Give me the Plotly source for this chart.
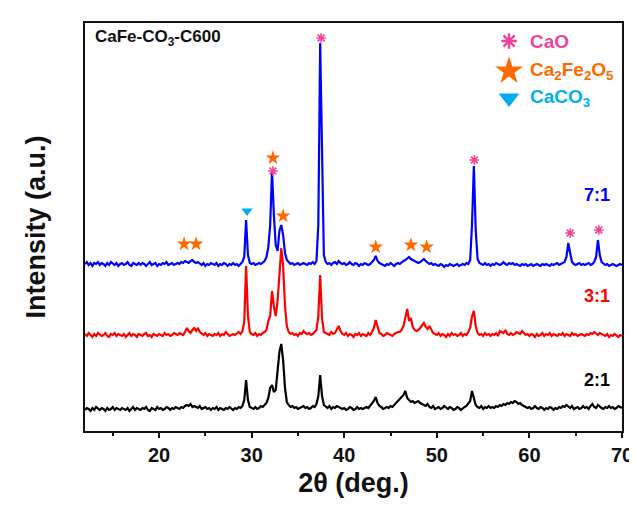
import plotly.graph_objects as go

# 2-theta sampling grid (deg), 0.2 deg step from 12 to 70
two_theta = [round(12 + 0.2 * i, 1) for i in range(291)]

# Intensities (a.u., relative to each pattern's baseline)
blue_71 = [
    1, 3, 0, 2, -1, 2, 1, 3, 0, 2,
    1, -1, 2, 0, 3, 1, 0, 2, -1, 1,
    2, 0, 1, 3, 0, -1, 2, 1, 0, 2,
    0, 2, 1, -1, 1, 3, 0, 1, 2, -1,
    1, 0, 2, 1, 3, 0, 1, 2, 0, 1,
    2, 1, 3, 2, 4, 3, 2, 4, 5, 3,
    2, 3, 1, 0, 2, -1, 1, 0, 2, 1,
    0, 2, -1, 1, 0, 2, 1, -1, 1, 0,
    2, 0, 1, -1, 1, 3, 8, 45, 10, 2,
    1, 2, 0, 1, 2, 1, 3, 4, 8, 18,
    40, 94, 50, 20, 14, 34, 40, 30, 12, 5,
    3, 1, 2, 0, 1, 2, 0, 1, 2, 1,
    0, 2, 1, 3, 1, 4, 40, 222, 100, 10,
    3, 1, 2, 0, 2, 3, 1, 4, 2, 1,
    2, 0, 1, 3, 1, 0, 2, 1, -1, 1,
    0, 2, 1, 0, 1, 3, 5, 9, 4, 2,
    1, 0, -1, 1, 0, 2, 0, -1, 1, 2,
    1, 3, 4, 5, 7, 8, 6, 5, 4, 3,
    2, 3, 5, 6, 4, 2, 1, 2, 0, 1,
    0, -1, 1, 0, -2, 0, -1, 1, 0, -1,
    0, 1, -1, 0, 1, 0, 2, 1, 5, 40,
    99, 35, 6, 2, 1, 0, 2, 0, 1, -1,
    1, 0, 2, 1, 0, 1, 3, 1, 0, 2,
    1, 2, 0, 1, 0, -1, 1, 0, 1, -1,
    0, 1, -1, 0, 1, 0, -1, 1, 0, 1,
    0, -1, 1, 0, 1, 2, 0, 1, 2, 3,
    8, 22, 12, 3, 1, 0, 1, 2, 0, 1,
    0, 1, 2, 0, 1, 3, 8, 25, 10, 3,
    1, 0, 1, -1, 0, 1, 0, -1, 0, 1,
    0,
]

red_31 = [
    2, 0, 3, 1, -1, 2, 0, 3, 1, 0,
    1, 3, 0, -1, 2, 1, 3, 0, 2, 1,
    0, 2, -1, 1, 3, 0, 2, 1, -1, 2,
    1, 0, 2, 3, 0, 1, -1, 2, 1, 0,
    2, 1, 0, 3, 1, 2, 0, 1, 3, 2,
    1, 3, 2, 1, 4, 8, 5, 3, 6, 8,
    5, 8, 4, 2, 1, 3, 0, 2, 1, 0,
    2, 1, 3, 0, 2, 1, 4, 2, 0, 1,
    2, 1, 3, 4, 2, 5, 14, 70, 20, 4,
    2, 1, 3, 0, 2, 1, 3, 4, 6, 15,
    20, 45, 30, 20, 35, 60, 88, 70, 30, 10,
    4, 2, 3, 1, 2, 0, 3, 2, 5, 3,
    2, 3, 1, 2, 4, 6, 20, 61, 18, 4,
    3, 2, 1, 4, 2, 3, 6, 10, 5, 2,
    1, 3, 0, 2, 1, -1, 2, 1, 3, 0,
    2, 1, 0, 3, 1, 4, 8, 16, 8, 3,
    2, 0, 1, 3, 2, 1, 0, 2, 3, 4,
    4, 6, 10, 18, 27, 15, 18, 9, 6, 5,
    6, 8, 10, 13, 9, 7, 10, 6, 3, 2,
    1, 3, 0, 2, 1, -1, 2, 0, 3, 1,
    2, 0, 1, 3, 0, 2, 1, 4, 8, 20,
    25, 10, 3, 1, 2, 0, 3, 1, 2, 0,
    2, 1, 3, 0, 5, 4, 3, 6, 2, 1,
    3, 1, 2, 4, 3, 2, 5, 3, 1, 2,
    0, 2, 1, -1, 2, 0, 1, 3, 0, 2,
    1, 3, 0, 2, 1, 0, 2, 1, 3, 0,
    2, 1, 0, 3, 1, 2, 0, 1, 2, 1,
    0, 2, 1, 3, 2, 4, 2, 1, 3, 2,
    1, 0, 2, -1, 1, 0, 2, 0, -1, 1,
    0,
]

black_21 = [
    0, 2, 1, -1, 2, 0, 3, 1, 0, 2,
    1, -1, 2, 0, 1, 3, 0, 2, 1, 0,
    2, 1, 0, 2, -1, 1, 3, 0, 2, 1,
    0, 2, 1, 3, 0, -1, 2, 1, 0, 3,
    1, 2, 0, 1, 3, 2, 0, 2, 1, 3,
    2, 1, 3, 2, 4, 5, 4, 6, 3, 4,
    3, 2, 4, 1, 2, 3, 1, 2, 0, 2,
    1, 3, 0, 2, 1, 0, 2, 1, 3, 1,
    0, 2, 1, 3, 2, 4, 10, 30, 10, 3,
    2, 1, 3, 1, 2, 4, 3, 5, 7, 12,
    22, 25, 18, 20, 40, 58, 66, 50, 22, 8,
    5, 3, 4, 2, 3, 1, 2, 3, 4, 2,
    3, 1, 2, 4, 3, 6, 14, 35, 14, 5,
    3, 2, 4, 1, 3, 2, 4, 3, 2, 1,
    2, 0, 1, 3, 2, 0, 1, 3, 1, 2,
    1, 2, 3, 2, 4, 6, 9, 13, 7, 4,
    3, 1, 2, 3, 2, 4, 3, 5, 6, 8,
    10, 13, 15, 19, 12, 10, 8, 9, 7, 8,
    9, 7, 6, 5, 4, 6, 3, 2, 4, 1,
    2, 3, 1, 2, 4, 2, 1, 3, 2, 0,
    1, 3, 2, 0, 2, 3, 4, 6, 9, 19,
    12, 5, 3, 2, 4, 1, 3, 2, 4, 2,
    3, 2, 4, 3, 5, 4, 6, 5, 7, 6,
    8, 7, 9, 8, 6, 7, 5, 4, 3, 2,
    3, 1, 2, 4, 2, 1, 3, 2, 0, 2,
    1, 3, 2, 0, 2, 1, 3, 2, 4, 3,
    5, 3, 2, 4, 1, 2, 3, 1, 2, 4,
    2, 3, 1, 4, 6, 3, 2, 5, 3, 2,
    1, 3, 2, 4, 2, 3, 1, 2, 4, 3,
    2,
]

series_names = ["2:1", "3:1", "7:1"]
series_values = [black_21, red_31, blue_71]

# Phase markers on the 7:1 pattern (2theta, intensity above its baseline)
cao_x = [32.3, 37.5, 54.05, 64.4, 67.5]
cao_y = [94, 227, 105, 32, 35]
ca2fe2o5_x = [22.7, 24.0, 32.3, 33.4, 43.4, 47.2, 48.9]
ca2fe2o5_y = [21, 21, 107, 49, 18, 20, 18]
caco3_x = [29.5]
caco3_y = [54]

# ---- styling / layout (not data) ----
offsets = [21, 95, 166]
colors = ["#000000", "#ff0000", "#0000ff"]
PINK = "#f0449a"
ORANGE = "#ff6a00"
CYAN = "#00aeef"
FONT = "Arial"
INK = "#111111"

fig = go.Figure()
for name, vals, off, col in zip(series_names, series_values, offsets, colors):
    fig.add_trace(go.Scatter(
        x=two_theta, y=[v + off for v in vals], mode="lines",
        line=dict(color=col, width=2.2), name=name, showlegend=False,
    ))

blue_off = offsets[2]
fig.add_trace(go.Scatter(
    x=cao_x, y=[v + blue_off for v in cao_y], mode="markers",
    marker=dict(symbol="asterisk", size=8, line=dict(color=PINK, width=1.6), color=PINK),
    showlegend=False))
fig.add_trace(go.Scatter(
    x=ca2fe2o5_x, y=[v + blue_off for v in ca2fe2o5_y], mode="markers",
    marker=dict(symbol="star", size=11, color=ORANGE, line=dict(width=0)),
    showlegend=False))
fig.add_trace(go.Scatter(
    x=caco3_x, y=[v + blue_off for v in caco3_y], mode="markers",
    marker=dict(symbol="triangle-down", size=10, color=CYAN, line=dict(width=0)),
    showlegend=False))

# manual legend (symbols)
leg_x = 57.8
fig.add_trace(go.Scatter(
    x=[leg_x], y=[390], mode="markers",
    marker=dict(symbol="asterisk", size=13, line=dict(color=PINK, width=2.4), color=PINK),
    showlegend=False))
fig.add_trace(go.Scatter(
    x=[leg_x], y=[360], mode="markers",
    marker=dict(symbol="star", size=21, color=ORANGE, line=dict(width=0)),
    showlegend=False))
fig.add_trace(go.Scatter(
    x=[leg_x], y=[333], mode="markers",
    marker=dict(symbol="triangle-down", size=18, color=CYAN, line=dict(width=0)),
    showlegend=False))

legend_items = [("CaO", 390, PINK),
                ("Ca<sub>2</sub>Fe<sub>2</sub>O<sub>5</sub>", 360, ORANGE),
                ("CaCO<sub>3</sub>", 333, CYAN)]
for txt, yy, col in legend_items:
    fig.add_annotation(x=59.8, y=yy, text="<b>" + txt + "</b>", showarrow=False,
                       xanchor="left", yanchor="middle",
                       font=dict(family=FONT, size=19, color=col))

for name, col, yy in zip(series_names, colors, [51, 135, 236]):
    fig.add_annotation(x=68.9, y=yy, text="<b>" + name + "</b>", showarrow=False,
                       xanchor="right", yanchor="middle",
                       font=dict(family=FONT, size=18, color=col))

fig.add_annotation(xref="paper", yref="paper", x=0.014, y=0.963,
                   text="<b>CaFe-CO<sub>3</sub>-C600</b>", showarrow=False,
                   xanchor="left", yanchor="middle",
                   font=dict(family=FONT, size=17, color=INK))

fig.update_layout(
    width=637, height=507,
    margin=dict(l=77, r=12, t=15, b=84),
    paper_bgcolor="white", plot_bgcolor="white",
    font=dict(family=FONT, color="black"),
)
fig.update_xaxes(
    range=[12, 70], showgrid=False, zeroline=False,
    showline=True, mirror=True, linecolor=INK, linewidth=2,
    ticks="outside", tickwidth=2, ticklen=5, tickcolor=INK, dtick=10, tick0=0,
    minor=dict(ticks="outside", dtick=5, tick0=0, ticklen=3, tickwidth=1.5, tickcolor=INK),
    tickfont=dict(family=FONT, size=20, color=INK, weight="bold"),
    title=dict(text="<b>2θ (deg.)</b>", font=dict(family=FONT, size=27, color=INK), standoff=8),
)
fig.update_yaxes(
    range=[0, 408], showgrid=False, zeroline=False, showticklabels=False,
    showline=True, mirror=True, linecolor=INK, linewidth=2, ticks="",
    title=dict(text="<b>Intensity (a.u.)</b>", font=dict(family=FONT, size=27, color=INK), standoff=30),
)

fig.write_html("out.html")
